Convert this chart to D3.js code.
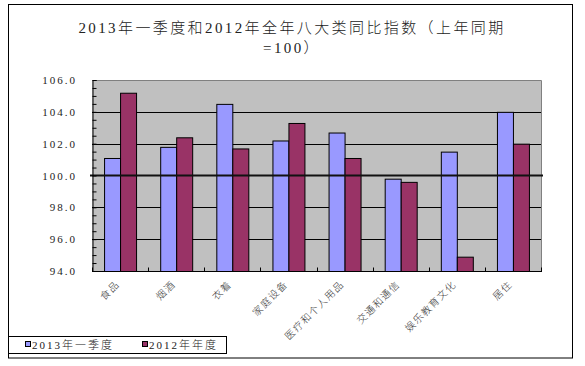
<!DOCTYPE html>
<html><head><meta charset="utf-8">
<script src="https://cdn.jsdelivr.net/npm/d3@7/dist/d3.min.js"></script>
<style>
body{margin:0;background:#fff;}
text{font-family:"Liberation Serif","Noto Sans CJK SC",serif;}
</style></head>
<body><svg id="c" width="585" height="366"></svg>
<script>
const categories = ["食品","烟酒","衣着","家庭设备","医疗和个人用品","交通和通信","娱乐教育文化","居住"];
const seriesNames = ["2013年一季度","2012年年度"];
const q1_2013 = [101.1,101.8,104.5,102.2,102.7,99.8,101.5,104.0];
const year2012 = [105.2,102.4,101.7,103.3,101.1,99.6,94.9,102.0];
const yTicks = [94,96,98,100,102,104,106];
const colors = ["#9999FF","#993366"];
const titleLines = ["2013年一季度和2012年全年八大类同比指数（上年同期","=100）"];

const svg = d3.select("#c");
const L=92,R=541,T=80,B=271;

// outer frame
svg.append("rect").attr("x",8.5).attr("y",4.5).attr("width",564).attr("height",353.5)
  .attr("fill","#fff").attr("stroke","#000");

// title
svg.selectAll("text.title").data(titleLines).join("text")
  .attr("x",292).attr("y",(d,i)=>33+i*20).attr("text-anchor","middle")
  .attr("font-size",15).attr("font-weight",300).attr("letter-spacing",2.4).attr("fill","#222").text(d=>d);

const y = d3.scaleLinear().domain([94,106]).range([B,T]);
const x = d3.scaleBand().domain(categories).range([L,R]).paddingInner(0.43).paddingOuter(0.215);
const xs = d3.scaleBand().domain([0,1]).range([0,x.bandwidth()]);

// plot bg
svg.append("rect").attr("x",L).attr("y",T).attr("width",R-L).attr("height",B-T).attr("fill","#C0C0C0");
// top/right border
svg.append("path").attr("d",`M${L},${T+0.5}H${R+0.5}V${B}`).attr("fill","none").attr("stroke","#808080");

// gridlines
svg.selectAll("line.grid").data(yTicks.filter(v=>v!==94&&v!==106&&v!==100)).join("line")
  .attr("x1",L).attr("x2",R).attr("y1",d=>Math.round(y(d))+0.5).attr("y2",d=>Math.round(y(d))+0.5)
  .attr("stroke","#000");

// bars
const data = categories.map((c,i)=>({c,vals:[q1_2013[i],year2012[i]]}));
const g = svg.append("g");
data.forEach(d=>{
  d.vals.forEach((v,j)=>{
    const y0 = y(94);
    g.append("rect").attr("x",x(d.c)+xs(j)+0.5).attr("width",xs.bandwidth())
      .attr("y",y(v)+0.5).attr("height",y0-y(v))
      .attr("fill",colors[j]).attr("stroke","#000").attr("stroke-width",1);
  });
});

// 100 line
svg.append("line").attr("x1",L-2).attr("x2",R+2).attr("y1",y(100)).attr("y2",y(100))
  .attr("stroke","#111").attr("stroke-width",2);

// y axis
const yAxis = d3.axisLeft(y).tickValues(d3.range(94,106.01,0.5)).tickSize(-4).tickFormat("");
const ya = svg.append("g").attr("transform",`translate(${L+0.5},0)`).call(yAxis);
ya.select(".domain").attr("stroke","#000");
ya.selectAll(".tick line").attr("stroke","#000");
svg.selectAll("text.ylab").data(yTicks).join("text")
  .attr("x",77).attr("y",d=>y(d)+4).attr("text-anchor","end")
  .attr("font-size",11).attr("letter-spacing",2).attr("fill","#222")
  .text(d=>d.toFixed(1));

// x axis
const xb = svg.append("g").attr("transform",`translate(0,${B+0.5})`);
xb.append("line").attr("x1",L).attr("x2",R+1).attr("stroke","#000");
const bounds = d3.range(categories.length+1).map(i=>L+i*x.step());
xb.selectAll("line.t").data(bounds).join("line").attr("class","t")
  .attr("x1",d=>Math.round(d)+0.5).attr("x2",d=>Math.round(d)+0.5).attr("y1",0).attr("y2",-4).attr("stroke","#000");
svg.selectAll("text.xlab").data(categories).join("text")
  .attr("transform",d=>`translate(${x(d)+x.bandwidth()/2},${B+14}) rotate(-45)`)
  .attr("text-anchor","end").attr("font-size",10).attr("font-weight",300).attr("letter-spacing",1.2).attr("fill","#333")
  .text(d=>d);

// legend
svg.append("rect").attr("x",8.5).attr("y",336.5).attr("width",218).attr("height",17)
  .attr("fill","#fff").attr("stroke","#000");
const lx=[25,142];
seriesNames.forEach((n,i)=>{
  svg.append("rect").attr("x",lx[i]+0.5).attr("y",341.5).attr("width",5).attr("height",5)
    .attr("fill",colors[i]).attr("stroke","#000");
  svg.append("text").attr("x",lx[i]+7).attr("y",349).attr("font-size",11).attr("font-weight",300)
    .attr("letter-spacing",2).attr("fill","#222").text(n);
});
</script></body></html>
